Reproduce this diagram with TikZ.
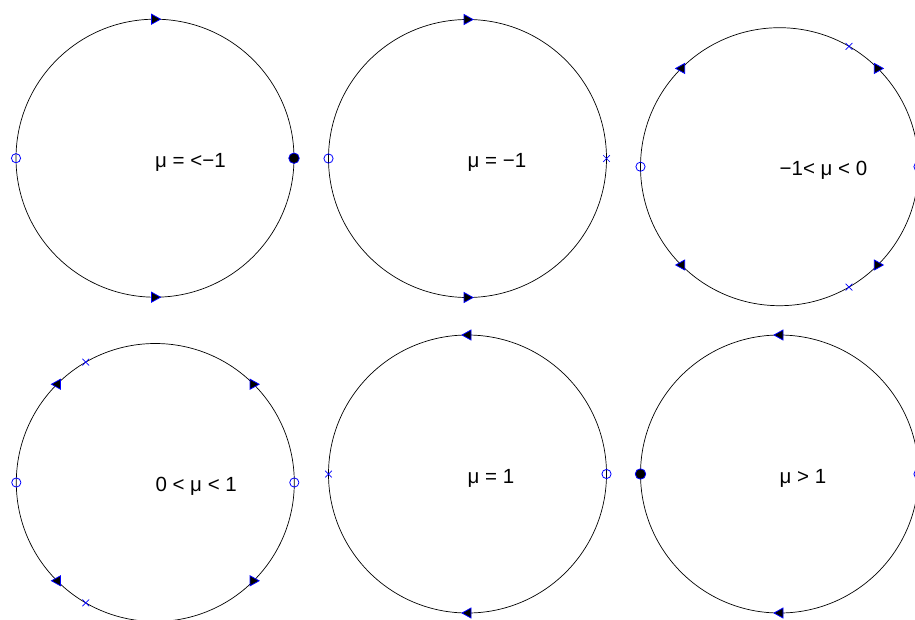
\documentclass[tikz,border=0pt]{standalone}
\usepackage{fontspec}
\setmainfont{Liberation Sans}
\usetikzlibrary{shapes.misc}
\definecolor{mblue}{RGB}{0,0,255}
\begin{document}
\begin{tikzpicture}[x=1pt,y=-1pt,
  ring/.style={circle, draw=black, line width=0.7pt, minimum size=278pt, inner sep=0pt, outer sep=0pt},
  openmk/.style={circle, draw=mblue, line width=0.8pt, minimum size=9.2pt, inner sep=0pt},
  fillmk/.style={circle, draw=mblue, fill=black, line width=0.8pt, minimum size=10.5pt, inner sep=0pt},
  xmk/.style={cross out, draw=mblue, line width=0.7pt, minimum size=6pt, inner sep=0pt},
  lbl/.style={anchor=base west, inner sep=0pt, yshift=-9pt, font=\fontsize{20.5}{21}\selectfont},
  pics/arrR/.style={code={\draw[mblue, fill=black, line width=0.8pt, line join=miter] (5.5,0) -- (-3.5,-5) -- (-3.5,5) -- cycle;}},
  pics/arrL/.style={code={\draw[mblue, fill=black, line width=0.8pt, line join=miter] (-5.5,0) -- (3.5,-5) -- (3.5,5) -- cycle;}}
]
\useasboundingbox (0,0) rectangle (915,619);
\clip (0,0) rectangle (915,619);

% ---- circle 1: mu < -1
\node[ring] (c1) at (155,158.2) {};
\node[openmk] (c1l) at (c1.west) {};
\node[fillmk] (c1r) at (c1.east) {};
\pic at (c1.north) {arrR};
\pic at (c1.south) {arrR};
\node[lbl] (t1) at (c1.center) {μ = <−1};

% ---- circle 2: mu = -1
\node[ring] (c2) at (467.5,158.5) {};
\node[openmk] (c2l) at (c2.west) {};
\node[xmk] (c2r) at (c2.east) {};
\pic at (c2.north) {arrR};
\pic at (c2.south) {arrR};
\node[lbl] (t2) at (c2.center) {μ = −1};

% ---- circle 3: -1 < mu < 0
\node[ring] (c3) at (779.5,166.7) {};
\node[openmk] (c3l) at (c3.west) {};
\node[openmk] (c3r) at (c3.east) {};
\node[xmk] (c3xa) at (c3.60) {};
\node[xmk] (c3xb) at (c3.-60) {};
\pic at (c3.135) {arrL};
\pic at (c3.-135) {arrL};
\pic at (c3.45) {arrR};
\pic at (c3.-45) {arrR};
\node[lbl] (t3) at (c3.center) {−1< μ < 0};

% ---- circle 4: 0 < mu < 1
\node[ring] (c4) at (155.3,482.5) {};
\node[openmk] (c4l) at (c4.west) {};
\node[openmk] (c4r) at (c4.east) {};
\node[xmk] (c4xa) at (c4.120) {};
\node[xmk] (c4xb) at (c4.-120) {};
\pic at (c4.135) {arrL};
\pic at (c4.-135) {arrL};
\pic at (c4.45) {arrR};
\pic at (c4.-45) {arrR};
\node[lbl] (t4) at (c4.center) {0 < μ < 1};

% ---- circle 5: mu = 1
\node[ring] (c5) at (467.5,474) {};
\node[xmk] (c5l) at (c5.west) {};
\node[openmk] (c5r) at (c5.east) {};
\pic at (c5.north) {arrL};
\pic at (c5.south) {arrL};
\node[lbl] (t5) at (c5.center) {μ = 1};

% ---- circle 6: mu > 1
\node[ring] (c6) at (779.5,474) {};
\node[fillmk] (c6l) at (c6.west) {};
\node[openmk] (c6r) at (c6.east) {};
\pic at (c6.north) {arrL};
\pic at (c6.south) {arrL};
\node[lbl] (t6) at (c6.center) {μ > 1};
\end{tikzpicture}
\end{document}
